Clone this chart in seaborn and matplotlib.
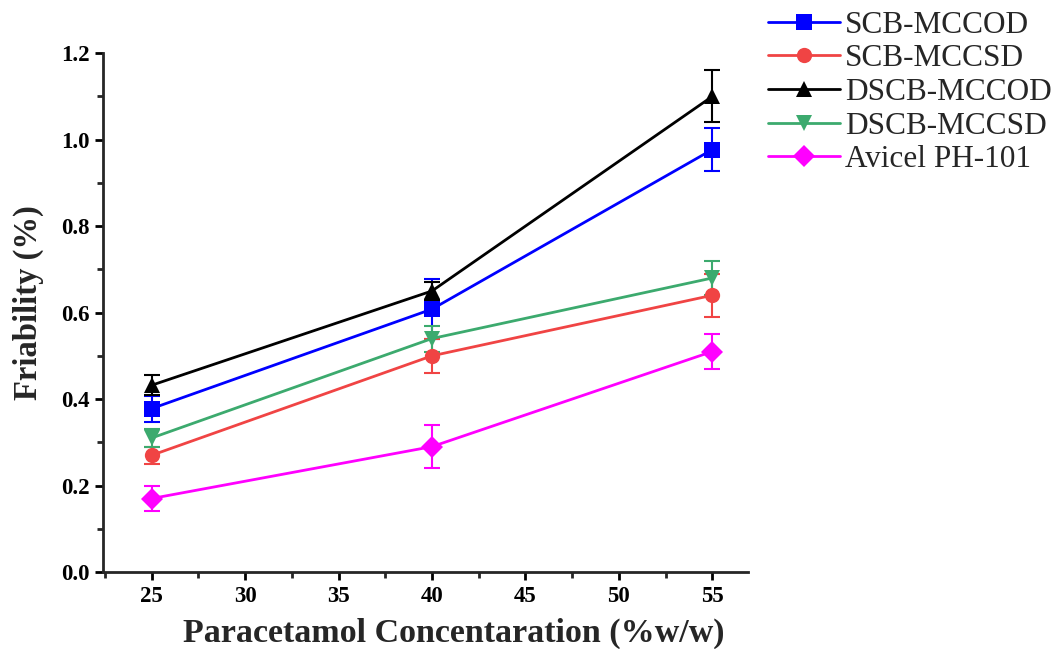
import numpy as np
import pandas as pd
import matplotlib
matplotlib.use("Agg")
import matplotlib.pyplot as plt
import seaborn as sns
from matplotlib.ticker import MultipleLocator

concentration = [25, 40, 55]
series_names = ["SCB-MCCOD", "SCB-MCCSD", "DSCB-MCCOD", "DSCB-MCCSD", "Avicel PH-101"]
scb_mccod = [0.378, 0.608, 0.977]
scb_mccsd = [0.27, 0.50, 0.64]
dscb_mccod = [0.432, 0.65, 1.10]
dscb_mccsd = [0.31, 0.54, 0.68]
avicel = [0.17, 0.29, 0.51]
err_scb_mccod = [0.03, 0.07, 0.05]
err_scb_mccsd = [0.02, 0.04, 0.05]
err_dscb_mccod = [0.023, 0.02, 0.06]
err_dscb_mccsd = [0.02, 0.03, 0.04]
err_avicel = [0.03, 0.05, 0.04]

values = [scb_mccod, scb_mccsd, dscb_mccod, dscb_mccsd, avicel]
errors = [err_scb_mccod, err_scb_mccsd, err_dscb_mccod, err_dscb_mccsd, err_avicel]
colors = ["#0000FF", "#F04444", "#000000", "#3CAA6E", "#FF00FF"]
markers = ["s", "o", "^", "v", "D"]

rows = []
for name, vals, errs in zip(series_names, values, errors):
    for c, v, e in zip(concentration, vals, errs):
        rows.append({"Concentration": c, "Friability": v, "err": e, "Series": name})
df = pd.DataFrame(rows)

sns.set_style("ticks")
plt.rcParams["font.family"] = ["Liberation Serif", "DejaVu Serif"]

fig = plt.figure(figsize=(10.57, 6.49), dpi=100)
ax = fig.add_axes([0.0975, 0.1186, 0.61, 0.7995])

palette = dict(zip(series_names, colors))
mk = dict(zip(series_names, markers))

for name in series_names:
    sub = df[df["Series"] == name]
    ax.errorbar(sub["Concentration"], sub["Friability"], yerr=sub["err"], fmt="none",
                ecolor=palette[name], elinewidth=1.5, capsize=6, capthick=1.5, zorder=2)

sns.lineplot(data=df, x="Concentration", y="Friability", hue="Series", style="Series",
             hue_order=series_names, style_order=series_names,
             palette=palette, markers=mk, dashes=False, markersize=11,
             markeredgewidth=0, linewidth=2, ax=ax, zorder=3)

ax.set_xlim(22.4, 56.9)
ax.set_ylim(0, 1.2)
ax.xaxis.set_major_locator(MultipleLocator(5))
ax.xaxis.set_minor_locator(MultipleLocator(2.5))
ax.yaxis.set_major_locator(MultipleLocator(0.2))
ax.yaxis.set_minor_locator(MultipleLocator(0.1))
ax.yaxis.set_major_formatter(matplotlib.ticker.FormatStrFormatter("%.1f"))
sns.despine(ax=ax)
for s in ["left", "bottom"]:
    ax.spines[s].set_linewidth(2)
ax.tick_params(axis="both", which="major", direction="out", length=6, width=2,
               labelsize=16.5, colors="black")
ax.tick_params(axis="x", which="major", pad=4)
ax.tick_params(axis="both", which="minor", direction="out", length=4, width=2)
for lbl in ax.get_xticklabels() + ax.get_yticklabels():
    lbl.set_fontweight("bold")

ax.set_xlabel("Paracetamol Concentaration (%w/w)", fontsize=24.5, fontweight="bold",
              va="center", ha="center")
ax.xaxis.set_label_coords(0.544, -0.1175)
ax.set_ylabel("Friability (%)", fontsize=23.5, fontweight="bold", va="center", ha="center")
ax.yaxis.set_label_coords(-0.116, 0.52)

leg = ax.legend(loc="upper left", bbox_to_anchor=(1.031, 1.082), frameon=False,
                fontsize=22.5, handlelength=2.3, labelspacing=0.15, handletextpad=0.16,
                borderaxespad=0, borderpad=0)
for line in leg.get_lines():
    line.set_linewidth(2)

fig.savefig("out.png", dpi=100)
